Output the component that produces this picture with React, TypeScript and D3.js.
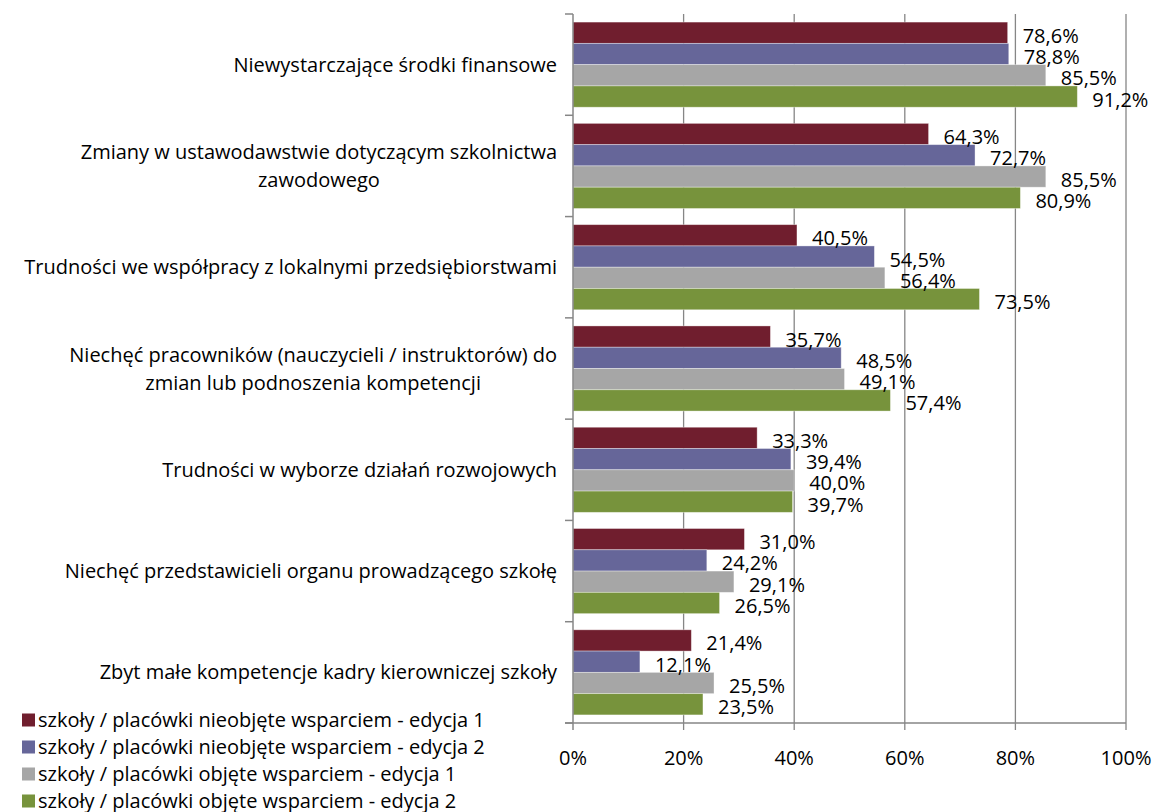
import React from "react";
import * as d3 from "d3";

const categories = [
  "Niewystarczające środki finansowe",
  "Zmiany w ustawodawstwie dotyczącym szkolnictwa\nzawodowego",
  "Trudności we współpracy z lokalnymi przedsiębiorstwami",
  "Niechęć pracowników (nauczycieli / instruktorów) do\nzmian lub podnoszenia kompetencji",
  "Trudności w wyborze działań rozwojowych",
  "Niechęć przedstawicieli organu prowadzącego szkołę",
  "Zbyt małe kompetencje kadry kierowniczej szkoły"
];

const seriesNames = [
  "szkoły / placówki nieobjęte wsparciem - edycja 1",
  "szkoły / placówki nieobjęte wsparciem - edycja 2",
  "szkoły / placówki objęte wsparciem - edycja 1",
  "szkoły / placówki objęte wsparciem - edycja 2"
];

const nieobjeteEd1 = [78.6, 64.3, 40.5, 35.7, 33.3, 31.0, 21.4];
const nieobjeteEd2 = [78.8, 72.7, 54.5, 48.5, 39.4, 24.2, 12.1];
const objeteEd1 = [85.5, 85.5, 56.4, 49.1, 40.0, 29.1, 25.5];
const objeteEd2 = [91.2, 80.9, 73.5, 57.4, 39.7, 26.5, 23.5];

const xTicks = [0, 20, 40, 60, 80, 100];

const seriesValues = [nieobjeteEd1, nieobjeteEd2, objeteEd1, objeteEd2];
const colors = ["#701e2e", "#666699", "#a6a6a6", "#77933c"];

const width = 1161;
const height = 812;
const font = "'Open Sans', sans-serif";
const fontSize = 20;
const axisColor = "#868686";

const left = 573;
const right = 1126;
const top = 14;
const bottom = 723;

let measureCtx: CanvasRenderingContext2D | null = null;
const measure = (s: string) => {
  if (!measureCtx) {
    measureCtx = document.createElement("canvas").getContext("2d");
  }
  if (!measureCtx) return s.length * 10;
  measureCtx.font = `${fontSize}px ${font}`;
  return measureCtx.measureText(s).width;
};

const fmt = (v: number) => v.toFixed(1).replace(".", ",") + "%";

export default function App() {
  const x = d3.scaleLinear().domain([0, 100]).range([left, right]);
  const y = d3.scaleBand<number>().domain(d3.range(categories.length)).range([top, bottom]);
  const ys = d3
    .scaleBand<number>()
    .domain(d3.range(seriesValues.length))
    .range([0, y.bandwidth()])
    .paddingOuter(0.38);

  const catTicks = d3.range(categories.length + 1).map(i => top + i * y.step());

  return (
    <svg
      width={width}
      height={height}
      style={{ position: "absolute", left: 0, top: 0, background: "#fff" }}
      fontFamily={font}
      fontSize={fontSize}
    >
      {/* gridlines */}
      {xTicks.slice(1).map(t => (
        <line key={t} x1={x(t)} x2={x(t)} y1={top} y2={bottom + 7} stroke={axisColor} strokeWidth={1.3} />
      ))}

      {/* bars */}
      {categories.map((c, ci) => (
        <g key={c} transform={`translate(0,${y(ci)})`}>
          {seriesValues.map((vals, si) => (
            <rect
              key={si}
              x={x(0)}
              y={ys(si)}
              width={x(vals[ci]) - x(0)}
              height={ys.bandwidth()}
              fill={colors[si]}
              stroke="rgba(255,255,255,0.45)"
              strokeWidth={0.8}
            />
          ))}
        </g>
      ))}

      {/* axes */}
      <line x1={left} x2={left} y1={top} y2={bottom} stroke={axisColor} strokeWidth={1.5} />
      <line x1={left - 8} x2={right} y1={bottom} y2={bottom} stroke={axisColor} strokeWidth={1.5} />
      {catTicks.map((t, i) => (
        <line key={i} x1={left - 8} x2={left} y1={t} y2={t} stroke={axisColor} strokeWidth={1.5} />
      ))}
      <line x1={left} x2={left} y1={bottom} y2={bottom + 7} stroke={axisColor} strokeWidth={1.5} />
      {xTicks.map(t => (
        <text key={t} x={x(t)} y={765} textAnchor="middle" fill="#000">
          {t + "%"}
        </text>
      ))}

      {/* value labels */}
      {categories.map((c, ci) =>
        seriesValues.map((vals, si) => (
          <text
            key={c + si}
            x={x(vals[ci]) + 15}
            y={(y(ci) as number) + (ys(si) as number) + ys.bandwidth() / 2 + 3}
            dy="0.35em"
            fill="#000"
          >
            {fmt(vals[ci])}
          </text>
        ))
      )}

      {/* category labels */}
      {categories.map((c, ci) => {
        const lines = c.split("\n");
        const w = Math.max(...lines.map(measure));
        const cx = 557 - w / 2;
        const cy = (y(ci) as number) + y.bandwidth() / 2;
        const lh = 28;
        return (
          <text key={c} textAnchor="middle" fill="#000">
            {lines.map((l, li) => (
              <tspan key={li} x={cx} y={cy + (li - (lines.length - 1) / 2) * lh} dy="0.35em">
                {l}
              </tspan>
            ))}
          </text>
        );
      })}

      {/* legend */}
      {seriesNames.map((s, i) => {
        const cy = 720 + i * 27;
        return (
          <g key={s}>
            <rect x={22} y={cy - 6.5} width={13} height={13} fill={colors[i]} />
            <text x={38} y={cy} dy="0.35em" fill="#000">
              {s}
            </text>
          </g>
        );
      })}
    </svg>
  );
}
